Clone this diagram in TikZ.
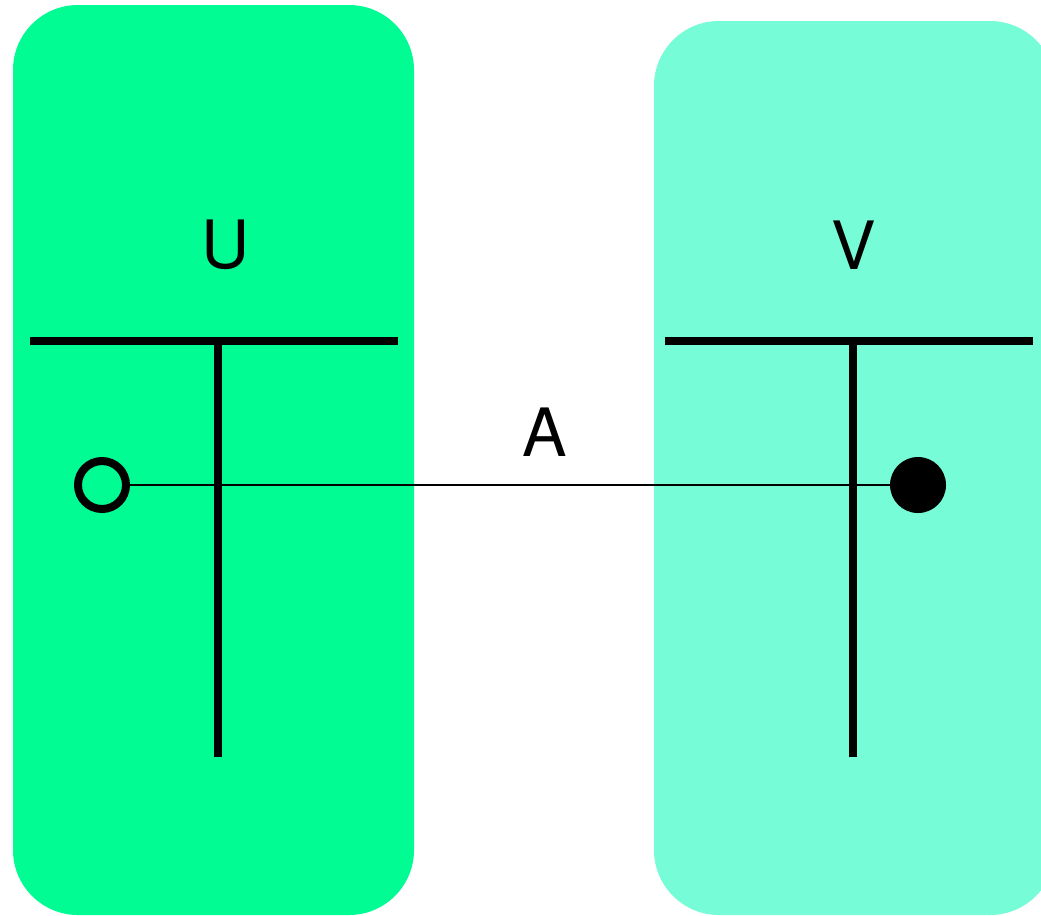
\documentclass[tikz,border=0pt]{standalone}
\usepackage{fontspec}
\setmainfont{TeX Gyre Heros}
\definecolor{ugreen}{RGB}{0,252,146}
\definecolor{vaqua}{RGB}{118,252,214}
\begin{document}
\begin{tikzpicture}[x=0.75pt,y=-0.75pt,
  lane/.style={rounded corners=48.75pt},
  tbar/.style={line width=5.3pt},
  label/.style={font=\fontsize{50}{60}\selectfont, inner sep=0pt},
  port/.style={circle, minimum size=42pt, inner sep=0pt},
  link/.style={line width=1.3pt}]
\useasboundingbox (0,0) rectangle (1041,915);
\clip (0,0) rectangle (1041,915);
% swimlane backgrounds
\fill[ugreen, lane] (13,5) rectangle (414,915);
\fill[vaqua, lane] (654,21) rectangle (1055,915);
% lane titles
\node[label] (u) at (226,245) {U};
\node[label] (v) at (854,245) {V};
% T-shaped dividers
\draw[tbar] (30,341) -- (398,341);
\draw[tbar] (218,341) -- (218,757);
\draw[tbar] (665,341) -- (1033,341);
\draw[tbar] (853,341) -- (853,757);
% endpoints and connector
\node[port, draw, line width=6pt, minimum size=36pt] (p) at (102,485) {};
\node[port, fill=black] (q) at (918,485) {};
\draw[link] (p.east) -- (q.west);
\node[label] (a) at (545,432) {A};
\end{tikzpicture}
\end{document}
